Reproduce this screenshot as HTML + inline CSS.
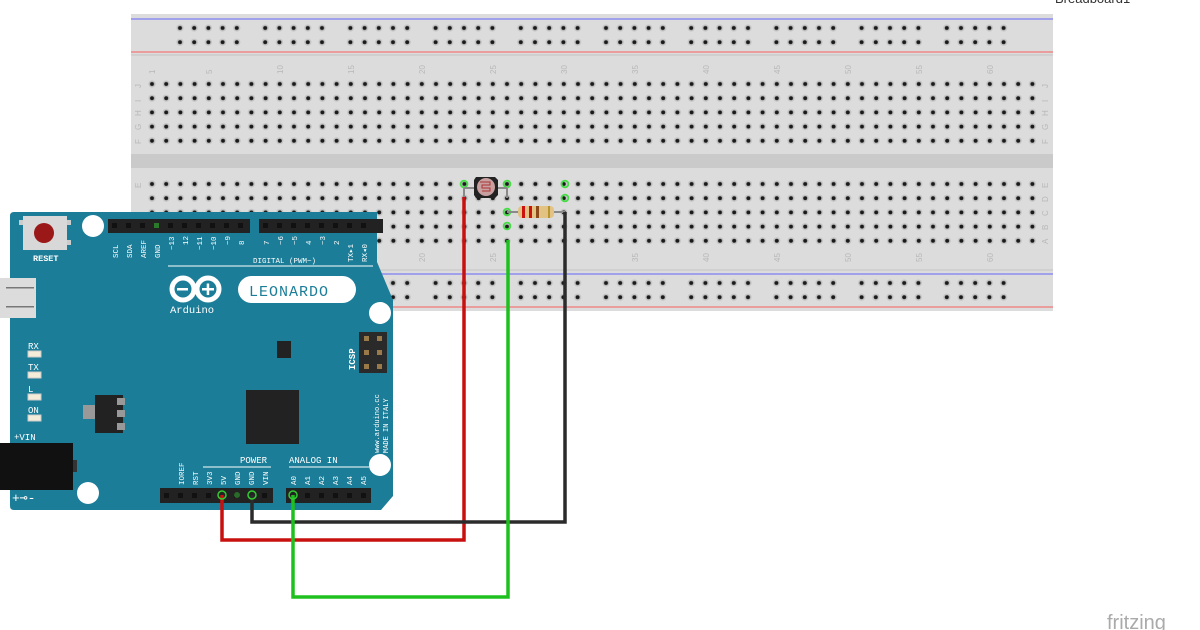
<!DOCTYPE html>
<html><head><meta charset="utf-8"><style>
html,body{margin:0;padding:0;background:#fff;}
svg{display:block;font-family:"Liberation Mono",monospace;}
</style></head><body>
<svg width="1200" height="630" viewBox="0 0 1200 630" xmlns="http://www.w3.org/2000/svg">
<defs>
<pattern id="h" x="144.9" y="76.9" width="14.2" height="14.2" patternUnits="userSpaceOnUse">
<circle cx="7.1" cy="7.1" r="3.6" fill="#c4c4c4"/><circle cx="7.1" cy="7.1" r="2" fill="#1a1a1a"/></pattern>
<pattern id="h2" x="144.9" y="176.9" width="14.2" height="14.2" patternUnits="userSpaceOnUse">
<circle cx="7.1" cy="7.1" r="3.6" fill="#c4c4c4"/><circle cx="7.1" cy="7.1" r="2" fill="#1a1a1a"/></pattern>
<pattern id="r1" x="172.9" y="20.9" width="14.2" height="14.2" patternUnits="userSpaceOnUse">
<circle cx="7.1" cy="7.1" r="3.6" fill="#c4c4c4"/><circle cx="7.1" cy="7.1" r="2" fill="#1a1a1a"/></pattern>
<pattern id="r2" x="172.9" y="275.9" width="14.2" height="14.2" patternUnits="userSpaceOnUse">
<circle cx="7.1" cy="7.1" r="3.6" fill="#c4c4c4"/><circle cx="7.1" cy="7.1" r="2" fill="#1a1a1a"/></pattern>
</defs>
<text x="1055" y="3" font-family="Liberation Sans,sans-serif" font-size="13" fill="#333">Breadboard1</text>
<text x="1107" y="629" font-family="Liberation Sans,sans-serif" font-size="20" fill="#aaa">fritzing</text>
<!-- breadboard -->
<rect x="131" y="14" width="922" height="297" fill="#dcdcdc"/>
<rect x="131" y="154" width="922" height="14" fill="#cbcaca"/>
<line x1="131" y1="19" x2="1053" y2="19" stroke="#8b8bf0" stroke-width="1.5"/>
<line x1="131" y1="52" x2="1053" y2="52" stroke="#ee8888" stroke-width="1.5"/>
<line x1="131" y1="55" x2="1053" y2="55" stroke="#c4c4c4" stroke-width="1"/>
<line x1="131" y1="270" x2="1053" y2="270" stroke="#c4c4c4" stroke-width="1"/>
<line x1="131" y1="274" x2="1053" y2="274" stroke="#8b8bf0" stroke-width="1.5"/>
<line x1="131" y1="307" x2="1053" y2="307" stroke="#ee8888" stroke-width="1.5"/>
<rect x="144.9" y="76.9" width="894.6" height="71" fill="url(#h)"/>
<rect x="144.9" y="176.9" width="894.6" height="71" fill="url(#h2)"/>
<g fill="url(#r1)">
<rect x="172.9" y="20.9" width="71" height="28.4"/><rect x="258.1" y="20.9" width="71" height="28.4"/><rect x="343.3" y="20.9" width="71" height="28.4"/><rect x="428.5" y="20.9" width="71" height="28.4"/><rect x="513.7" y="20.9" width="71" height="28.4"/><rect x="598.9" y="20.9" width="71" height="28.4"/><rect x="684.1" y="20.9" width="71" height="28.4"/><rect x="769.3" y="20.9" width="71" height="28.4"/><rect x="854.5" y="20.9" width="71" height="28.4"/><rect x="939.7" y="20.9" width="71" height="28.4"/></g>
<g fill="url(#r2)">
<rect x="172.9" y="275.9" width="71" height="28.4"/><rect x="258.1" y="275.9" width="71" height="28.4"/><rect x="343.3" y="275.9" width="71" height="28.4"/><rect x="428.5" y="275.9" width="71" height="28.4"/><rect x="513.7" y="275.9" width="71" height="28.4"/><rect x="598.9" y="275.9" width="71" height="28.4"/><rect x="684.1" y="275.9" width="71" height="28.4"/><rect x="769.3" y="275.9" width="71" height="28.4"/><rect x="854.5" y="275.9" width="71" height="28.4"/><rect x="939.7" y="275.9" width="71" height="28.4"/></g>
<g font-size="8" fill="#b8b8b8" font-family="Liberation Sans,sans-serif">
<text transform="translate(155,74) rotate(-90)">1</text><text transform="translate(212,74) rotate(-90)">5</text><text transform="translate(283,74) rotate(-90)">10</text><text transform="translate(354,74) rotate(-90)">15</text><text transform="translate(425,74) rotate(-90)">20</text><text transform="translate(496,74) rotate(-90)">25</text><text transform="translate(567,74) rotate(-90)">30</text><text transform="translate(638,74) rotate(-90)">35</text><text transform="translate(709,74) rotate(-90)">40</text><text transform="translate(780,74) rotate(-90)">45</text><text transform="translate(851,74) rotate(-90)">50</text><text transform="translate(922,74) rotate(-90)">55</text><text transform="translate(993,74) rotate(-90)">60</text>
<text transform="translate(425,262) rotate(-90)">20</text><text transform="translate(496,262) rotate(-90)">25</text><text transform="translate(638,262) rotate(-90)">35</text><text transform="translate(709,262) rotate(-90)">40</text><text transform="translate(780,262) rotate(-90)">45</text><text transform="translate(851,262) rotate(-90)">50</text><text transform="translate(922,262) rotate(-90)">55</text><text transform="translate(993,262) rotate(-90)">60</text>
<text transform="translate(1048,88) rotate(-90)">J</text><text transform="translate(1048,102) rotate(-90)">I</text><text transform="translate(1048,116) rotate(-90)">H</text><text transform="translate(1048,130) rotate(-90)">G</text><text transform="translate(1048,144) rotate(-90)">F</text>
<text transform="translate(1048,188) rotate(-90)">E</text><text transform="translate(1048,202) rotate(-90)">D</text><text transform="translate(1048,216) rotate(-90)">C</text><text transform="translate(1048,230) rotate(-90)">B</text><text transform="translate(1048,244) rotate(-90)">A</text>
<text transform="translate(141,88) rotate(-90)">J</text><text transform="translate(141,102) rotate(-90)">I</text><text transform="translate(141,116) rotate(-90)">H</text><text transform="translate(141,130) rotate(-90)">G</text><text transform="translate(141,144) rotate(-90)">F</text><text transform="translate(141,188) rotate(-90)">E</text>
</g>
<!-- highlighted holes -->
<g fill="none" stroke="#44dd44" stroke-width="1.8">
<circle cx="464" cy="184" r="3.4"/><circle cx="507" cy="184" r="3.4"/><circle cx="565" cy="184" r="3.4"/><circle cx="565" cy="198" r="3.4"/><circle cx="507" cy="226" r="3.4"/><circle cx="507" cy="212" r="3.4"/></g>
<!-- LDR -->
<line x1="464" y1="198" x2="464" y2="188" stroke="#8a8a8a" stroke-width="2"/>
<line x1="464" y1="188" x2="507" y2="188" stroke="#8a8a8a" stroke-width="2"/>
<line x1="507" y1="188" x2="507" y2="198" stroke="#8a8a8a" stroke-width="2"/>
<polygon points="474,180 476,177 495,177 498,180 498,195 495,198 476,198 474,195" fill="#222"/>
<circle cx="486" cy="187" r="9" fill="#c9a0a0"/>
<path d="M480,182 h10 v3 h-8 v3 h8 v3 h-8" fill="none" stroke="#a33" stroke-width="1"/>
<!-- resistor -->
<line x1="507" y1="212" x2="565" y2="212" stroke="#8a8a8a" stroke-width="2"/>
<rect x="518" y="206" width="36" height="12" rx="4" fill="#e2c384"/>
<rect x="522" y="206" width="3" height="12" fill="#c11"/><rect x="529" y="206" width="3" height="12" fill="#c11"/><rect x="536" y="206" width="3" height="12" fill="#8a4a1a"/><rect x="548" y="206" width="2" height="12" fill="#b8962e"/>
<!-- arduino -->
<path d="M14,212 H377 V262 L393,300 V496 L381,510 H14 Q10,510 10,506 V216 Q10,212 14,212Z" fill="#1b7d98"/>
<g fill="#fff"><circle cx="93" cy="226" r="11"/><circle cx="380" cy="313" r="11"/><circle cx="88" cy="493" r="11"/><circle cx="380" cy="465" r="11"/></g>
<rect x="23" y="216" width="44" height="34" fill="#d8d8d8"/><rect x="19" y="220" width="4" height="5" fill="#ccc"/><rect x="67" y="220" width="4" height="5" fill="#ccc"/><rect x="67" y="240" width="4" height="5" fill="#ccc"/>
<circle cx="44" cy="233" r="10" fill="#9a1818"/>
<text x="33" y="261" font-size="8.5" fill="#fff" font-weight="bold">RESET</text>
<rect x="0" y="278" width="36" height="40" fill="#dcdcdc"/><rect x="6" y="287" width="28" height="1.5" fill="#777"/><rect x="6" y="306" width="28" height="1.5" fill="#777"/>
<g font-size="9" fill="#fff"><text x="28" y="349">RX</text><text x="28" y="370">TX</text><text x="28" y="392">L</text><text x="28" y="413">ON</text><text x="14" y="440">+VIN</text><text x="12" y="502" font-size="13">+⊸-</text></g>
<g fill="#f3ecd8" stroke="#ccc" stroke-width="1"><rect x="28" y="351" width="13" height="6"/><rect x="28" y="372" width="13" height="6"/><rect x="28" y="394" width="13" height="6"/><rect x="28" y="415" width="13" height="6"/></g>
<rect x="0" y="443" width="73" height="47" fill="#111"/><rect x="73" y="460" width="4" height="12" fill="#333"/>
<rect x="83" y="405" width="12" height="14" fill="#999"/><rect x="95" y="395" width="28" height="38" fill="#222"/><g fill="#999"><rect x="117" y="398" width="8" height="7"/><rect x="117" y="410" width="8" height="7"/><rect x="117" y="423" width="8" height="7"/></g>
<rect x="246" y="390" width="53" height="54" fill="#222"/><rect x="277" y="341" width="14" height="17" fill="#222"/>
<rect x="359" y="332" width="28" height="41" fill="#2a2a2a"/><g fill="#9b7a4a"><rect x="364" y="336" width="5" height="5"/><rect x="377" y="336" width="5" height="5"/><rect x="364" y="350" width="5" height="5"/><rect x="377" y="350" width="5" height="5"/><rect x="364" y="364" width="5" height="5"/><rect x="377" y="364" width="5" height="5"/></g>
<text transform="translate(355,370) rotate(-90)" font-size="9" fill="#fff" font-weight="bold">ICSP</text>
<text transform="translate(379,453) rotate(-90)" font-size="7" fill="#fff">www.arduino.cc</text>
<text transform="translate(388,453) rotate(-90)" font-size="7" fill="#fff">MADE IN ITALY</text>
<!-- logo -->
<g fill="none" stroke="#fff" stroke-width="5"><circle cx="183" cy="289" r="11"/><circle cx="208" cy="289" r="11"/></g>
<g fill="#fff"><rect x="177" y="288" width="11" height="2.5"/><rect x="202" y="288" width="12" height="2.5"/><rect x="206.7" y="283.5" width="2.5" height="11.5"/></g>
<text x="170" y="313" font-size="10.5" fill="#fff">Arduino</text>
<rect x="238" y="276" width="118" height="27" rx="13.5" fill="#fff"/>
<text x="249" y="296" font-size="15" fill="#1b7d98" letter-spacing="1">LEONARDO</text>
<!-- headers -->
<rect x="108" y="219" width="142" height="14" fill="#222"/>
<rect x="259" y="219" width="124" height="14" fill="#222"/>
<g fill="#111"><rect x="112" y="223" width="5" height="5"/><rect x="126" y="223" width="5" height="5"/><rect x="140" y="223" width="5" height="5"/><rect x="154" y="223" width="5" height="5" fill="#2a7a2a"/><rect x="168" y="223" width="5" height="5"/><rect x="182" y="223" width="5" height="5"/><rect x="196" y="223" width="5" height="5"/><rect x="210" y="223" width="5" height="5"/><rect x="224" y="223" width="5" height="5"/><rect x="238" y="223" width="5" height="5"/>
<rect x="263" y="223" width="5" height="5"/><rect x="277" y="223" width="5" height="5"/><rect x="291" y="223" width="5" height="5"/><rect x="305" y="223" width="5" height="5"/><rect x="319" y="223" width="5" height="5"/><rect x="333" y="223" width="5" height="5"/><rect x="347" y="223" width="5" height="5"/><rect x="361" y="223" width="5" height="5"/></g>
<g font-size="7.5" fill="#fff">
<text transform="translate(118,258) rotate(-90)">SCL</text><text transform="translate(132,258) rotate(-90)">SDA</text><text transform="translate(146,258) rotate(-90)">AREF</text><text transform="translate(160,258) rotate(-90)">GND</text><text transform="translate(174,250) rotate(-90)">~13</text><text transform="translate(188,245) rotate(-90)">12</text><text transform="translate(202,250) rotate(-90)">~11</text><text transform="translate(216,250) rotate(-90)">~10</text><text transform="translate(230,245) rotate(-90)">~9</text><text transform="translate(244,245) rotate(-90)">8</text>
<text transform="translate(269,245) rotate(-90)">7</text><text transform="translate(283,245) rotate(-90)">~6</text><text transform="translate(297,245) rotate(-90)">~5</text><text transform="translate(311,245) rotate(-90)">4</text><text transform="translate(325,245) rotate(-90)">~3</text><text transform="translate(339,245) rotate(-90)">2</text><text transform="translate(353,262) rotate(-90)">TX▸1</text><text transform="translate(367,262) rotate(-90)">RX◂0</text>
<text x="253" y="263">DIGITAL (PWM~)</text>
</g>
<line x1="168" y1="266" x2="373" y2="266" stroke="#fff" stroke-width="1"/>
<rect x="160" y="488" width="113" height="15" fill="#222"/><rect x="286" y="488" width="85" height="15" fill="#222"/>
<g fill="#111"><rect x="164" y="493" width="5" height="5"/><rect x="178" y="493" width="5" height="5"/><rect x="192" y="493" width="5" height="5"/><rect x="206" y="493" width="5" height="5"/><rect x="234" y="493" width="5" height="5"/><rect x="262" y="493" width="5" height="5"/>
<rect x="305" y="493" width="5" height="5"/><rect x="319" y="493" width="5" height="5"/><rect x="333" y="493" width="5" height="5"/><rect x="347" y="493" width="5" height="5"/><rect x="361" y="493" width="5" height="5"/></g>
<g font-size="7.5" fill="#fff">
<text x="240" y="463" font-size="9">POWER</text><text x="289" y="463" font-size="9">ANALOG IN</text>
<text transform="translate(184,485) rotate(-90)">IOREF</text><text transform="translate(198,485) rotate(-90)">RST</text><text transform="translate(212,485) rotate(-90)">3V3</text><text transform="translate(226,485) rotate(-90)">5V</text><text transform="translate(240,485) rotate(-90)">GND</text><text transform="translate(254,485) rotate(-90)">GND</text><text transform="translate(268,485) rotate(-90)">VIN</text>
<text transform="translate(296,485) rotate(-90)">A0</text><text transform="translate(310,485) rotate(-90)">A1</text><text transform="translate(324,485) rotate(-90)">A2</text><text transform="translate(338,485) rotate(-90)">A3</text><text transform="translate(352,485) rotate(-90)">A4</text><text transform="translate(366,485) rotate(-90)">A5</text>
</g>
<line x1="203" y1="467" x2="271" y2="467" stroke="#fff"/><line x1="289" y1="467" x2="369" y2="467" stroke="#fff"/>
<circle cx="237" cy="495" r="3" fill="#2a6a2a"/>
<!-- wires -->
<g fill="none" stroke-width="3.5" stroke-linejoin="miter">
<polyline points="222,495 222,540 464,540 464,197" stroke="#c8100f"/>
<polyline points="252,495 252,522 565,522 565,212" stroke="#2b2b2b"/>
<polyline points="293,495 293,597 508,597 508,240" stroke="#1ec01e"/>
</g>
<g fill="none" stroke="#3c3" stroke-width="1.5"><circle cx="222" cy="495" r="4"/><circle cx="252" cy="495" r="4"/><circle cx="293" cy="495" r="4"/></g>
</svg>
</body></html>
